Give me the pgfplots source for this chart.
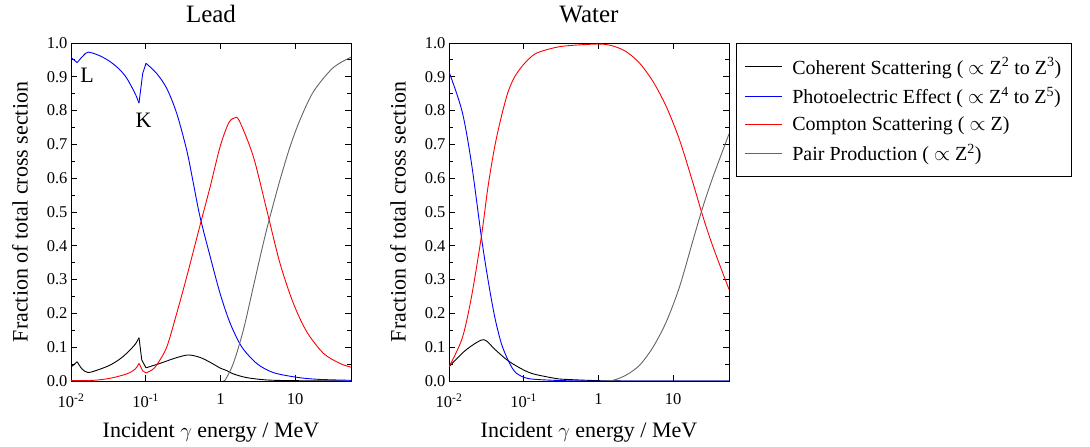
\documentclass[border=0pt]{standalone}
\usepackage{pgfplots}
\pgfplotsset{compat=1.18}
\usepackage{fontspec}
\setmainfont{Liberation Serif}
\definecolor{pairgray}{RGB}{100,100,100}
\pgfplotsset{legend image code/.code={\draw[#1] (0pt,0pt) -- (37pt,0pt);}}

\begin{document}
\begin{tikzpicture}[x=1pt,y=1pt]
\useasboundingbox (0,0) rectangle (1090,447);

\begin{axis}[at={(71pt,66pt)}, anchor=south west, title={Lead},
    xmode=log, scale only axis, width=280pt, height=338pt,
    xmin=0.01, xmax=56, ymin=0, ymax=1,
    xtick={0.01,0.1,1,10},
    xticklabels={10\textsuperscript{-2},10\textsuperscript{-1},1,10},
    xminorticks=false,
    ytick={0,0.1,0.2,0.3,0.4,0.5,0.6,0.7,0.8,0.9,1.0},
    yticklabels={0.0,0.1,0.2,0.3,0.4,0.5,0.6,0.7,0.8,0.9,1.0},
    minor y tick num=1,
    tick align=inside,
    major tick length=6pt, minor tick length=4pt,
    tick style={black, line width=0.8pt},
    axis line style={line width=0.9pt},
    tick label style={font=\fontsize{16.5}{18}\selectfont},
    xticklabel style={yshift=-9pt},
    label style={font=\fontsize{22}{24}\selectfont},
    xlabel={Incident $\gamma$\ energy / MeV},
    ylabel={Fraction of total cross section},
    xlabel style={at={(axis description cs:0.5,-0.166)}, anchor=base},
    ylabel style={at={(axis description cs:-0.182,0.5)}, anchor=center},
    title style={font=\fontsize{25}{27}\selectfont, at={(axis description cs:0.5,1.044)}, anchor=base},
    every axis plot/.append style={line width=0.9pt, no markers}]
% Coherent scattering
\addplot[draw=black] coordinates {(0.01,0.041) (0.0121,0.057)};
\addplot[draw=black, smooth] coordinates {
(0.0121,0.057) (0.0140,0.036) (0.0170,0.025) (0.0244,0.035) (0.0333,0.047)
(0.0445,0.064) (0.0557,0.082) (0.072,0.108) (0.0813,0.128)};
\addplot[draw=black] coordinates {(0.0813,0.128) (0.0886,0.062) (0.101,0.039)};
\addplot[draw=black, smooth] coordinates {
(0.101,0.039) (0.155,0.052) (0.25,0.068) (0.372,0.077) (0.53,0.070)
(0.72,0.056) (1.0,0.038) (1.21,0.031) (1.49,0.021) (2.25,0.010)
(4.2,0.003) (10,0.001) (56,0.0)};
% Photoelectric effect
\addplot[draw=blue] coordinates {(0.01,0.957) (0.0121,0.942)};
\addplot[draw=blue, smooth] coordinates {
(0.0121,0.942) (0.0145,0.962) (0.0171,0.973) (0.0244,0.962) (0.0333,0.945)
(0.0445,0.922) (0.0557,0.896) (0.072,0.851) (0.0813,0.822)};
\addplot[draw=blue] coordinates {(0.0813,0.822) (0.0912,0.910) (0.101,0.940)};
\addplot[draw=blue, smooth] coordinates {
(0.101,0.940) (0.140,0.910) (0.191,0.866) (0.26,0.792) (0.354,0.683)
(0.426,0.595) (0.533,0.486) (0.73,0.368) (0.99,0.259) (1.35,0.171)
(1.93,0.101) (3.06,0.052) (5.1,0.025) (10.5,0.011) (20,0.005) (56,0.002)};
% Compton scattering
\addplot[draw=red, smooth] coordinates {
(0.01,0.001) (0.02,0.002) (0.0333,0.008) (0.0557,0.021) (0.072,0.035) (0.0813,0.052)};
\addplot[draw=red] coordinates {(0.0813,0.052) (0.0912,0.030) (0.101,0.024)};
\addplot[draw=red, smooth] coordinates {
(0.101,0.024) (0.12,0.032) (0.14,0.047) (0.191,0.100) (0.26,0.200)
(0.354,0.308) (0.533,0.460) (0.73,0.575) (0.99,0.693) (1.28,0.762)
(1.53,0.778) (1.79,0.770) (2.76,0.664) (4.17,0.506) (6.28,0.348)
(9.47,0.230) (14.3,0.146) (23.9,0.082) (39.8,0.052) (56,0.041)};
% Pair production
\addplot[draw=pairgray, smooth] coordinates {
(1.07,0.0) (1.16,0.003) (1.49,0.052) (2.03,0.151) (2.76,0.279) (3.75,0.407)
(4.61,0.486) (6.28,0.595) (8.55,0.693) (11.6,0.772) (17.6,0.856)
(32,0.926) (56,0.958)};
\node[font=\fontsize{22}{24}\selectfont] at (axis cs:0.0164,0.905) {L};
\node[font=\fontsize{22}{24}\selectfont] at (axis cs:0.0936,0.772) {K};
\end{axis}

\begin{axis}[at={(449pt,66pt)}, anchor=south west, title={Water},
    xmode=log, scale only axis, width=280pt, height=338pt,
    xmin=0.01, xmax=56, ymin=0, ymax=1,
    xtick={0.01,0.1,1,10},
    xticklabels={10\textsuperscript{-2},10\textsuperscript{-1},1,10},
    xminorticks=false,
    ytick={0,0.1,0.2,0.3,0.4,0.5,0.6,0.7,0.8,0.9,1.0},
    yticklabels={0.0,0.1,0.2,0.3,0.4,0.5,0.6,0.7,0.8,0.9,1.0},
    minor y tick num=1,
    tick align=inside,
    major tick length=6pt, minor tick length=4pt,
    tick style={black, line width=0.8pt},
    axis line style={line width=0.9pt},
    tick label style={font=\fontsize{16.5}{18}\selectfont},
    xticklabel style={yshift=-9pt},
    label style={font=\fontsize{22}{24}\selectfont},
    xlabel={Incident $\gamma$\ energy / MeV},
    ylabel={Fraction of total cross section},
    xlabel style={at={(axis description cs:0.5,-0.166)}, anchor=base},
    ylabel style={at={(axis description cs:-0.182,0.5)}, anchor=center},
    title style={font=\fontsize{25}{27}\selectfont, at={(axis description cs:0.5,1.044)}, anchor=base},
    every axis plot/.append style={line width=0.9pt, no markers},
    legend style={at={(1,1)}, xshift=7pt, anchor=north west, line width=0.9pt,
      font=\fontsize{20}{22}\selectfont, cells={anchor=west}, inner xsep=8pt, inner ysep=12pt,
      row sep=7.5pt, column sep=8pt}]
\addplot[draw=black, smooth] coordinates {
(0.01,0.042) (0.015,0.082) (0.02,0.104) (0.027,0.121) (0.0316,0.119)
(0.041,0.094) (0.0617,0.060) (0.1,0.0325) (0.14,0.020) (0.26,0.008)
(0.35,0.005) (1.0,0.001) (3,0.0) (56,0.0)};
\addlegendentry{Coherent Scattering ( $\propto$ Z\textsuperscript{2} to Z\textsuperscript{3})}
\addplot[draw=blue, smooth] coordinates {
(0.01,0.915) (0.015,0.797) (0.02,0.644) (0.0271,0.427) (0.0333,0.299)
(0.0409,0.190) (0.0502,0.111) (0.0617,0.062) (0.0757,0.028) (0.1,0.011)
(0.14,0.005) (0.35,0.001) (1,0.0) (56,0.0)};
\addlegendentry{Photoelectric Effect ( $\propto$ Z\textsuperscript{4} to Z\textsuperscript{5})}
\addplot[draw=red, smooth] coordinates {
(0.01,0.042) (0.015,0.126) (0.02,0.249) (0.0271,0.427) (0.0333,0.575)
(0.0409,0.693) (0.0502,0.782) (0.0617,0.855) (0.0757,0.900) (0.1,0.937)
(0.14,0.967) (0.21,0.981) (0.35,0.991) (1.0,0.997) (1.57,0.991)
(2.37,0.974) (3.57,0.940) (5.38,0.886) (8.1,0.812) (12.2,0.713)
(18.5,0.585) (25.1,0.486) (34.2,0.397) (56,0.271)};
\addlegendentry{Compton Scattering ( $\propto$ Z)}
\addplot[draw=pairgray, smooth] coordinates {
(1.07,0.0) (1.57,0.002) (2.37,0.018) (3.57,0.047) (5.38,0.100) (8.1,0.175)
(12.2,0.279) (18.5,0.417) (25.1,0.516) (34.2,0.604) (56,0.731)};
\addlegendentry{Pair Production ( $\propto$ Z\textsuperscript{2})}
\end{axis}
\end{tikzpicture}
\end{document}
